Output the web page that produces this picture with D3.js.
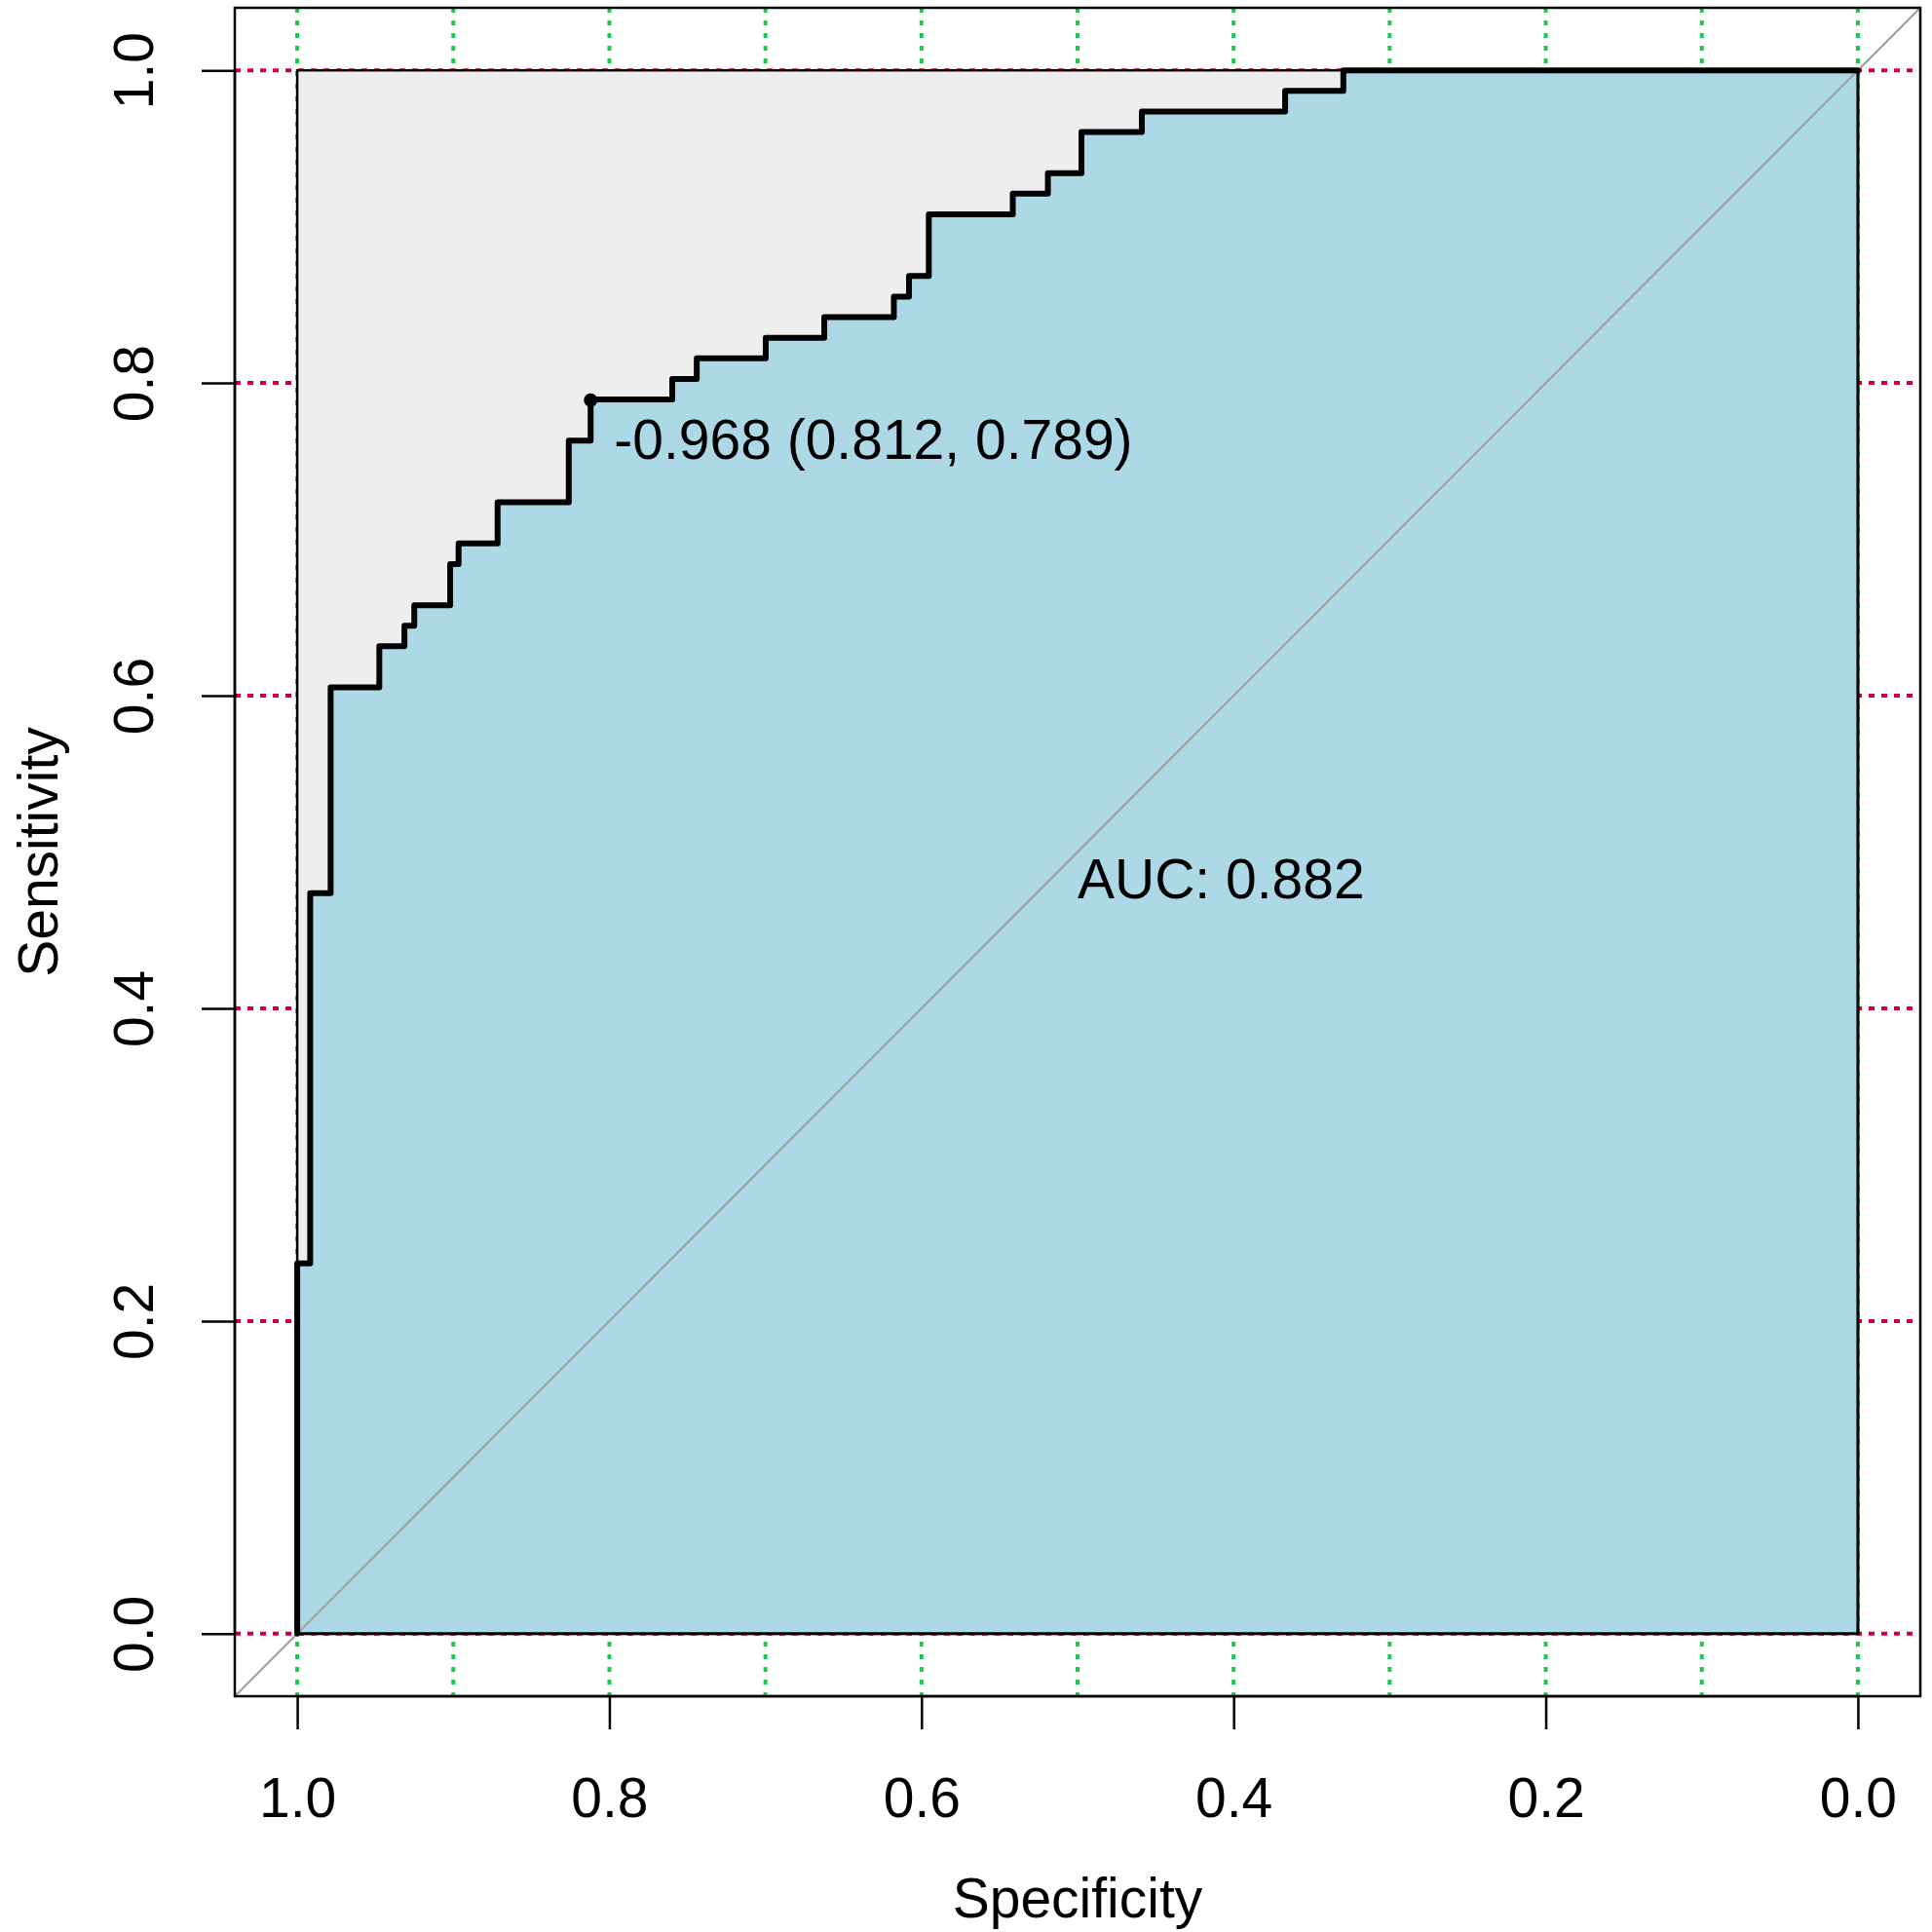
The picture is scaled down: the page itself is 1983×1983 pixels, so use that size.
<!DOCTYPE html>
<html>
<head>
<meta charset="utf-8">
<script src="https://cdn.jsdelivr.net/npm/d3@7"></script>
<style>
  body { margin: 0; background: #fff; }
  text { font-family: "Liberation Sans", Arial, sans-serif; fill: #000; }
</style>
</head>
<body>
<svg id="chart" width="1983" height="1983"></svg>
<script>
// ROC curve corners (specificity on a reversed x axis)
var specificity = [1.000, 1.000, 0.9917, 0.9917, 0.9786, 0.9786, 0.9474, 0.9474, 0.9313, 0.9313,
    0.925, 0.925, 0.902, 0.902, 0.8966, 0.8966, 0.8716, 0.8716, 0.826, 0.826,
    0.812, 0.812, 0.7597, 0.7597, 0.744, 0.744, 0.6998, 0.6998, 0.6623, 0.6623,
    0.6177, 0.6177, 0.608, 0.608, 0.5953, 0.5953, 0.5415, 0.5415, 0.519, 0.519,
    0.4975, 0.4975, 0.4588, 0.4588, 0.367, 0.367, 0.3297, 0.3297, 0.000];
var sensitivity = [0.000, 0.2368, 0.2368, 0.4737, 0.4737, 0.6053, 0.6053, 0.6316, 0.6316, 0.6447,
    0.6447, 0.6579, 0.6579, 0.6842, 0.6842, 0.6974, 0.6974, 0.7237, 0.7237, 0.7632,
    0.7632, 0.7895, 0.7895, 0.8026, 0.8026, 0.8158, 0.8158, 0.8289, 0.8289, 0.8421,
    0.8421, 0.8553, 0.8553, 0.8684, 0.8684, 0.9079, 0.9079, 0.9211, 0.9211, 0.9342,
    0.9342, 0.9605, 0.9605, 0.9737, 0.9737, 0.9868, 0.9868, 1.000, 1.000];

var xTicks = [1.0, 0.8, 0.6, 0.4, 0.2, 0.0];
var yTicks = [0.0, 0.2, 0.4, 0.6, 0.8, 1.0];
var gridX = [0.0, 0.1, 0.2, 0.3, 0.4, 0.5, 0.6, 0.7, 0.8, 0.9, 1.0];
var gridY = [0.0, 0.2, 0.4, 0.6, 0.8, 1.0];

var bestThreshold = -0.968, bestSpec = 0.812, bestSens = 0.789;
var aucValue = 0.882;

var roc = specificity.map(function (s, i) { return { spec: s, sens: sensitivity[i] }; });

var svg = d3.select("#chart");

// plot region (R style 4% extension on each side)
var plotLeft = 241, plotRight = 1971, plotTop = 8, plotBottom = 1741;

var xScale = d3.scaleLinear().domain([1.04, -0.04]).range([plotLeft, plotRight]);
var yScale = d3.scaleLinear().domain([-0.04, 1.04]).range([plotBottom, plotTop]);

var fontSize = 57;

svg.append("clipPath").attr("id", "plotClip")
    .append("rect")
    .attr("x", plotLeft).attr("y", plotTop)
    .attr("width", plotRight - plotLeft).attr("height", plotBottom - plotTop);

var plot = svg.append("g").attr("clip-path", "url(#plotClip)");

// grid
plot.selectAll(".gx")
    .data(gridX)
    .enter().append("line")
    .attr("x1", function (d) { return xScale(d); })
    .attr("x2", function (d) { return xScale(d); })
    .attr("y1", plotTop).attr("y2", plotBottom)
    .style("stroke", "#1fc84a")
    .style("stroke-width", 4)
    .style("stroke-dasharray", "5,8");

plot.selectAll(".gy")
    .data(gridY)
    .enter().append("line")
    .attr("y1", function (d) { return yScale(d); })
    .attr("y2", function (d) { return yScale(d); })
    .attr("x1", plotLeft).attr("x2", plotRight)
    .style("stroke", "#cc0035")
    .style("stroke-width", 4)
    .style("stroke-dasharray", "6,7");

// max AUC polygon (grey square)
plot.append("rect")
    .attr("x", xScale(1)).attr("y", yScale(1))
    .attr("width", xScale(0) - xScale(1))
    .attr("height", yScale(0) - yScale(1))
    .style("fill", "#eeeeee")
    .style("stroke", "#000")
    .style("stroke-width", 2.5);

var line = d3.line()
    .x(function (d) { return xScale(d.spec); })
    .y(function (d) { return yScale(d.sens); });

// AUC polygon
var area = roc.concat([{ spec: 0, sens: 0 }]);
plot.append("path")
    .datum(area)
    .attr("d", function (d) { return line(d) + "Z"; })
    .style("fill", "#add8e6")
    .style("stroke", "#000")
    .style("stroke-width", 3);

// identity line
plot.append("line")
    .attr("x1", xScale(1.04)).attr("y1", yScale(-0.04))
    .attr("x2", xScale(-0.04)).attr("y2", yScale(1.04))
    .style("stroke", "#a0a0a0")
    .style("stroke-width", 2.2);

// ROC curve
plot.append("path")
    .datum(roc)
    .attr("d", line)
    .style("fill", "none")
    .style("stroke", "#000")
    .style("stroke-width", 6)
    .style("stroke-linejoin", "round")
    .style("stroke-linecap", "round");

// best threshold
svg.append("circle")
    .attr("cx", xScale(bestSpec)).attr("cy", yScale(bestSens))
    .attr("r", 7)
    .style("fill", "#000");

svg.append("text")
    .attr("x", xScale(bestSpec) + 24)
    .attr("y", yScale(bestSens) + 60)
    .style("font-size", fontSize + "px")
    .text(bestThreshold.toFixed(3) + " (" + bestSpec.toFixed(3) + ", " + bestSens.toFixed(3) + ")");

svg.append("text")
    .attr("x", xScale(0.5))
    .attr("y", yScale(0.5) + 47)
    .style("font-size", fontSize + "px")
    .text("AUC: " + aucValue.toFixed(3));

// box
svg.append("rect")
    .attr("x", plotLeft).attr("y", plotTop)
    .attr("width", plotRight - plotLeft).attr("height", plotBottom - plotTop)
    .style("fill", "none")
    .style("stroke", "#000")
    .style("stroke-width", 2.5);

// x axis
var xAxis = d3.axisBottom(xScale)
    .tickValues(xTicks)
    .tickFormat(d3.format(".1f"))
    .tickSize(34)
    .tickSizeOuter(0)
    .tickPadding(50);

var gx = svg.append("g")
    .attr("class", "x axis")
    .attr("transform", "translate(0," + plotBottom + ")")
    .call(xAxis);
gx.select(".domain").attr("d", "M" + xScale(1) + ",0H" + xScale(0));
gx.selectAll("line, path").style("stroke", "#000").style("stroke-width", 2.5);
gx.selectAll("text")
    .style("font-size", fontSize + "px")
    .style("font-family", "Liberation Sans, Arial, sans-serif")
    .attr("fill", "#000");

// y axis
var yAxis = d3.axisLeft(yScale)
    .tickValues(yTicks)
    .tickFormat(d3.format(".1f"))
    .tickSize(34)
    .tickSizeOuter(0);

var gy = svg.append("g")
    .attr("class", "y axis")
    .attr("transform", "translate(" + plotLeft + ",0)")
    .call(yAxis);
gy.select(".domain").attr("d", "M0," + yScale(0) + "V" + yScale(1));
gy.selectAll("line, path").style("stroke", "#000").style("stroke-width", 2.5);
gy.selectAll("text")
    .attr("transform", "rotate(-90)")
    .attr("x", 0)
    .attr("y", -84)
    .attr("dy", null)
    .attr("text-anchor", "middle")
    .style("font-size", fontSize + "px")
    .style("font-family", "Liberation Sans, Arial, sans-serif")
    .attr("fill", "#000");

// axis titles
svg.append("text")
    .attr("x", xScale(0.5))
    .attr("y", 1968)
    .attr("text-anchor", "middle")
    .style("font-size", fontSize + "px")
    .text("Specificity");

svg.append("text")
    .attr("transform", "translate(59," + yScale(0.5) + ") rotate(-90)")
    .attr("text-anchor", "middle")
    .style("font-size", fontSize + "px")
    .text("Sensitivity");
</script>
</body>
</html>
